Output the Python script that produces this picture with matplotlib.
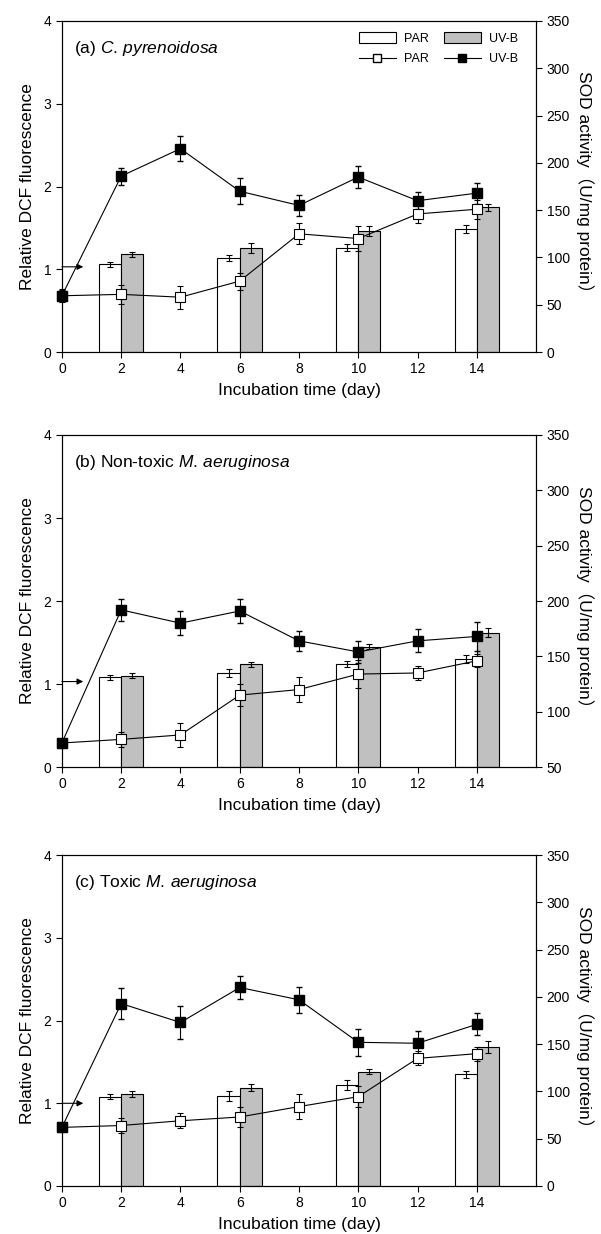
import numpy as np
import matplotlib
matplotlib.use("Agg")
from matplotlib import pyplot as plt
from matplotlib.patches import Patch
from matplotlib.lines import Line2D

plt.rcParams['font.family'] = ['Liberation Sans', 'Noto Sans CJK SC', 'DejaVu Sans']
plt.rcParams['mathtext.fontset'] = 'custom'
plt.rcParams['mathtext.rm'] = 'Liberation Sans'
plt.rcParams['mathtext.it'] = 'Liberation Sans:italic'

days = [0, 2, 4, 6, 8, 10, 12, 14]
bar_days = [2, 6, 10, 14]

# (a) C. pyrenoidosa
sod_a_par = [59.5, 61, 58, 75, 125, 120, 146, 151]
sod_a_par_err = [7, 10, 12, 9, 11, 13, 10, 10]
sod_a_uvb = [59.5, 186, 215, 170, 155, 185, 160, 168]
sod_a_uvb_err = [6, 9, 13, 14, 11, 12, 9, 11]
dcf_a_par = [1.06, 1.14, 1.26, 1.49]
dcf_a_par_err = [0.03, 0.035, 0.04, 0.05]
dcf_a_uvb = [1.18, 1.26, 1.46, 1.75]
dcf_a_uvb_err = [0.03, 0.06, 0.06, 0.04]

# (b) non-toxic M. aeruginosa
sod_b_par = [71.75, 75, 79, 115, 120, 134, 135, 146]
sod_b_par_err = [0, 6.5, 10.5, 10, 11, 13, 6, 6]
sod_b_uvb = [71.75, 192, 180, 191, 164, 154, 164, 168]
sod_b_uvb_err = [0, 10, 11, 10.5, 9, 10, 10.5, 13]
dcf_b_par = [1.08, 1.13, 1.24, 1.30]
dcf_b_par_err = [0.03, 0.05, 0.04, 0.05]
dcf_b_uvb = [1.10, 1.24, 1.45, 1.62]
dcf_b_uvb_err = [0.03, 0.03, 0.03, 0.05]

# (c) toxic M. aeruginosa
sod_c_par = [62, 64, 69, 73, 84, 94.5, 135, 140]
sod_c_par_err = [0, 8, 8, 11, 13, 11, 7.5, 7.5]
sod_c_uvb = [62, 193, 173, 210, 197, 152, 151, 171]
sod_c_uvb_err = [0, 16, 17.5, 12, 13.5, 14, 13, 11.5]
dcf_c_par = [1.08, 1.09, 1.22, 1.35]
dcf_c_par_err = [0.03, 0.06, 0.06, 0.04]
dcf_c_uvb = [1.11, 1.19, 1.38, 1.68]
dcf_c_uvb_err = [0.04, 0.04, 0.03, 0.07]

titles = ["(a) $\\it{C.\\,pyrenoidosa}$",
          "(b) Non-toxic $\\it{M.\\,aeruginosa}$",
          "(c) Toxic $\\it{M.\\,aeruginosa}$"]
arrow_y = [1.03, 1.03, 1.0]
sod_min = [0, 50, 0]

fig = plt.figure(figsize=(6.01, 12.34), dpi=100)
boxes = [[0.103, 0.7147, 0.789, 0.2683],
         [0.103, 0.3784, 0.789, 0.2691],
         [0.103, 0.0389, 0.789, 0.2681]]

panels = [
    (dcf_a_par, dcf_a_par_err, dcf_a_uvb, dcf_a_uvb_err, sod_a_par, sod_a_par_err, sod_a_uvb, sod_a_uvb_err),
    (dcf_b_par, dcf_b_par_err, dcf_b_uvb, dcf_b_uvb_err, sod_b_par, sod_b_par_err, sod_b_uvb, sod_b_uvb_err),
    (dcf_c_par, dcf_c_par_err, dcf_c_uvb, dcf_c_uvb_err, sod_c_par, sod_c_par_err, sod_c_uvb, sod_c_uvb_err),
]

bw = 0.75
grey = '#c0c0c0'
for i, p in enumerate(panels):
    dpar, dpar_e, duvb, duvb_e, spar, spar_e, suvb, suvb_e = p
    ax = fig.add_axes(boxes[i])
    bd = np.array(bar_days)
    ax.bar(bd - bw / 2, dpar, bw, yerr=dpar_e, color='white', edgecolor='black',
           linewidth=0.8, error_kw=dict(lw=0.8, capsize=2.5, capthick=0.8))
    ax.bar(bd + bw / 2, duvb, bw, yerr=duvb_e, color=grey, edgecolor='black',
           linewidth=0.8, error_kw=dict(lw=0.8, capsize=2.5, capthick=0.8))
    ax.annotate('', xy=(0.72, arrow_y[i]), xytext=(0, arrow_y[i]),
                arrowprops=dict(arrowstyle='-|>', color='black', lw=0.8,
                                mutation_scale=9, shrinkA=0, shrinkB=0))
    ax.set_xlim(0, 16)
    ax.set_ylim(0, 4)
    ax.set_xticks(range(0, 15, 2))
    ax.set_yticks(range(0, 5))
    ax.set_ylabel('Relative DCF fluorescence', fontsize=12.5, labelpad=6)
    ax.set_xlabel('Incubation time (day)', fontsize=12.5, labelpad=5)
    ax.tick_params(direction='out', length=4, width=0.8, labelsize=10, top=False)
    ax.text(0.025, 0.945, titles[i], transform=ax.transAxes, fontsize=12.5, va='top')

    ax2 = ax.twinx()
    ax2.errorbar(days, spar, yerr=spar_e, color='black', lw=0.8, marker='s', ms=7,
                 mfc='white', mec='black', mew=0.8, capsize=2.5, elinewidth=0.8,
                 clip_on=False)
    ax2.errorbar(days, suvb, yerr=suvb_e, color='black', lw=0.8, marker='s', ms=7,
                 mfc='black', mec='black', capsize=2.5, elinewidth=0.8, clip_on=False)
    ax2.set_ylim(sod_min[i], 350)
    ax2.set_yticks(range(sod_min[i], 351, 50))
    ax2.set_ylabel('SOD activity（U/mg protein）', fontsize=12.5, rotation=270, labelpad=17)
    ax2.tick_params(direction='out', length=4, width=0.8, labelsize=10)
    for a in (ax, ax2):
        for s in a.spines.values():
            s.set_linewidth(0.8)

    if i == 0:
        handles = [Patch(facecolor='white', edgecolor='black', linewidth=0.8),
                   Line2D([], [], color='black', lw=0.8, marker='s', ms=6, mfc='white', mec='black'),
                   Patch(facecolor=grey, edgecolor='black', linewidth=0.8),
                   Line2D([], [], color='black', lw=0.8, marker='s', ms=6, mfc='black')]
        labels = ['PAR', 'PAR', 'UV-B', 'UV-B']
        ax2.legend(handles, labels, ncol=2, loc='upper right', bbox_to_anchor=(0.985, 1.0),
                   frameon=False, fontsize=9, handlelength=3, handleheight=1.0,
                   columnspacing=1.2, handletextpad=0.6, labelspacing=0.6)

plt.savefig('out.png', dpi=100)
